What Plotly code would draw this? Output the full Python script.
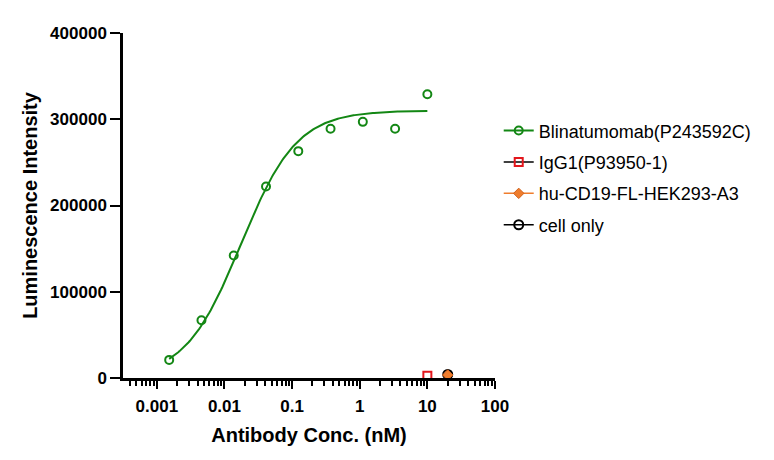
import numpy as np
import plotly.graph_objects as go

# Data
conc_nM = [10, 3.333, 1.111, 0.3704, 0.1235, 0.04115, 0.01372, 0.004572, 0.001524]
blina_lum = [329000, 289000, 297000, 289000, 263000, 222000, 142000, 67000, 21000]

igg1_conc = [10]
igg1_lum = [2500]
cd19_conc = [20]
cd19_lum = [3500]
cell_conc = [20]
cell_lum = [4200]

# 4PL fit parameters estimated for Blinatumomab
fit_bottom = 0
fit_top = 310000
fit_ec50 = 0.0175
fit_hill = 1.05

tick_vals = [0.001, 0.01, 0.1, 1, 10, 100]
tick_text = ["0.001", "0.01", "0.1", "1", "10", "100"]
minor_vals = [m * 10.0 ** e for e in range(-4, 2) for m in range(2, 10)]

GREEN = "#138714"
RED = "#e3161c"
ORANGE = "#ef7d2d"
FONT = "Liberation Sans"

xs = np.logspace(np.log10(min(conc_nM)), np.log10(max(conc_nM)), 200)
ys = fit_bottom + (fit_top - fit_bottom) / (1 + (fit_ec50 / xs) ** fit_hill)

fig = go.Figure()

# fitted curve
fig.add_trace(go.Scatter(x=xs, y=ys, mode="lines", line=dict(color=GREEN, width=2),
                         showlegend=False, hoverinfo="skip"))
# measured points
fig.add_trace(go.Scatter(x=conc_nM, y=blina_lum, mode="markers", showlegend=False,
                         marker=dict(symbol="circle-open", size=8, color=GREEN,
                                     line=dict(width=2, color=GREEN))))
# legend entry for Blinatumomab (line + marker)
fig.add_trace(go.Scatter(x=[None], y=[None], mode="lines+markers", name="Blinatumomab(P243592C)",
                         legendgroup="a", legendrank=1,
                         line=dict(color=GREEN, width=2),
                         marker=dict(symbol="circle-open", size=8, color=GREEN,
                                     line=dict(width=2, color=GREEN))))

fig.add_trace(go.Scatter(x=igg1_conc, y=igg1_lum, mode="lines+markers", name="IgG1(P93950-1)",
                         legendgroup="b", legendrank=2,
                         line=dict(color="black", width=1.5),
                         marker=dict(symbol="square-open", size=8, color=RED,
                                     line=dict(width=2, color=RED))))

fig.add_trace(go.Scatter(x=cell_conc, y=cell_lum, mode="lines+markers", name="cell only",
                         legendgroup="d", legendrank=4,
                         line=dict(color="black", width=1.5),
                         marker=dict(symbol="circle-open", size=9, color="black",
                                     line=dict(width=2, color="black"))))

fig.add_trace(go.Scatter(x=cd19_conc, y=cd19_lum, mode="lines+markers", name="hu-CD19-FL-HEK293-A3",
                         legendgroup="c", legendrank=3,
                         line=dict(color=ORANGE, width=1.5),
                         marker=dict(symbol="diamond", size=8, color=ORANGE,
                                     line=dict(width=1, color="#d0601a"))))

fig.update_layout(
    width=774, height=460,
    margin=dict(l=115, r=287, t=25, b=90),
    plot_bgcolor="white", paper_bgcolor="white",
    font=dict(family=FONT, color="black"),
    legend=dict(x=1.01, y=0.77, xanchor="left", yanchor="top",
                font=dict(size=18, family=FONT), tracegroupgap=5,
                itemwidth=30, bgcolor="rgba(0,0,0,0)"),
)

fig.update_xaxes(
    type="log", range=[-3.5, 2],
    tickvals=tick_vals, ticktext=tick_text,
    ticks="outside", ticklen=8, tickwidth=2, tickcolor="black",
    showline=True, linewidth=2.5, linecolor="black",
    showgrid=False, zeroline=False,
    ticklabelstandoff=3,
    tickfont=dict(size=17, family=FONT, weight="bold"),
    minor=dict(tickmode="array", tickvals=minor_vals, ticks="outside", ticklen=5,
               tickwidth=2, tickcolor="black", showgrid=False),
    title=dict(text="Antibody Conc. (nM)", font=dict(size=20, family=FONT, weight="bold"),
               standoff=13),
)

fig.update_yaxes(
    range=[0, 400000], dtick=100000, tickformat="d",
    ticks="outside", ticklen=10, tickwidth=2, tickcolor="black",
    showline=True, linewidth=2.5, linecolor="black",
    showgrid=False, zeroline=False,
    tickfont=dict(size=17, family=FONT, weight="bold"),
    title=dict(text="Luminescence Intensity", font=dict(size=20, family=FONT, weight="bold"),
               standoff=8),
)

fig.write_html("out.html")
